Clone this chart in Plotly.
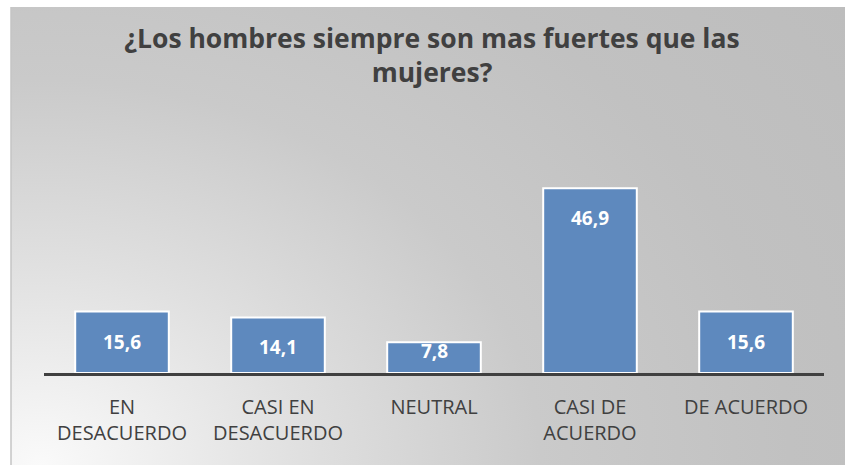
import plotly.graph_objects as go

W, H = 845, 465

categories = ["EN<br>DESACUERDO", "CASI EN<br>DESACUERDO", "NEUTRAL", "CASI DE<br>ACUERDO", "DE ACUERDO"]
values = [15.6, 14.1, 7.8, 46.9, 15.6]
title_text = "¿Los hombres siempre son mas fuertes que las<br>mujeres?"

BAR_COLOR = "#5E89BE"
TEXT_DARK = "#404040"
FONT = "Open Sans"

# plot area in pixels (bar subplot)
plot_left, plot_right = 44, 824
plot_top, plot_bottom = 176, 373
y_max = 50
# chart frame (gray area) starts a little in from the top-left
bg_left, bg_top = 11, 7

fig = go.Figure()

# background: radial gray gradient, lighter toward bottom-left
cx, cy, rx, ry = 29, 0, 1000, 770
fig.add_trace(go.Scatter(
    x=[cx - rx, cx + rx, cx + rx, cx - rx, cx - rx],
    y=[cy - ry, cy - ry, cy + ry, cy + ry, cy - ry],
    mode="lines",
    line=dict(width=0),
    fill="toself",
    fillgradient=dict(
        type="radial",
        colorscale=[[0, "#FAFAFA"], [0.26, "#E0E0E0"], [0.5, "#CACACA"],
                    [0.75, "#C1C1C1"], [1, "#BDBDBD"]],
    ),
    hoverinfo="skip",
    showlegend=False,
    xaxis="x", yaxis="y",
))

fig.add_trace(go.Bar(
    x=categories,
    y=values,
    marker=dict(color=BAR_COLOR, line=dict(color="white", width=2)),
    width=0.6,
    hoverinfo="skip",
    showlegend=False,
    xaxis="x2", yaxis="y2",
))

# data labels near the top, inside each bar
px_per_unit = (plot_bottom - plot_top) / y_max
for cat, v in zip(categories, values):
    h = v * px_per_unit
    shift = min(30, h - 22)
    fig.add_annotation(
        x=cat, y=v, xref="x2", yref="y2",
        text="<b>" + f"{v:.1f}".replace(".", ",") + "</b>",
        showarrow=False, yanchor="middle", yshift=-shift,
        font=dict(family=FONT, size=19, color="white"),
    )

# white page strips around the chart frame, plus its left border
fig.add_shape(type="rect", xref="paper", yref="paper", layer="below",
              x0=0, x1=bg_left / W, y0=0, y1=1,
              fillcolor="white", line=dict(width=0))
fig.add_shape(type="rect", xref="paper", yref="paper", layer="below",
              x0=0, x1=1, y0=(H - bg_top) / H, y1=1,
              fillcolor="white", line=dict(width=0))
fig.add_shape(type="line", xref="paper", yref="paper",
              x0=bg_left / W, x1=bg_left / W, y0=0, y1=(H - bg_top) / H,
              line=dict(color="#C4C4C4", width=1.5))

fig.update_layout(
    width=W, height=H,
    margin=dict(l=0, r=0, t=0, b=0),
    paper_bgcolor="#BDBDBD",
    plot_bgcolor="rgba(0,0,0,0)",
    title=dict(
        text=title_text,
        x=432 / W, xanchor="center",
        y=1 - 48 / H, yanchor="middle", yref="container",
        font=dict(family=FONT, size=26.5, color=TEXT_DARK, weight="bold"),
    ),
    xaxis=dict(domain=[bg_left / W, 1], range=[0, W - bg_left], visible=False, fixedrange=True),
    yaxis=dict(domain=[0, (H - bg_top) / H], range=[0, H - bg_top], visible=False, fixedrange=True),
    xaxis2=dict(
        domain=[plot_left / W, plot_right / W], anchor="y2",
        showline=True, linecolor=TEXT_DARK, linewidth=3,
        showgrid=False, ticks="", ticklabelstandoff=14,
        tickfont=dict(family=FONT, size=20, color=TEXT_DARK),
    ),
    yaxis2=dict(
        domain=[(H - plot_bottom) / H, (H - plot_top) / H], anchor="x2",
        range=[0, y_max], visible=False,
    ),
)

# drop the default page margin so the figure fills the window exactly
fig.write_html("out.html", config={"displayModeBar": False},
               post_script="document.body.style.margin = '0';")
